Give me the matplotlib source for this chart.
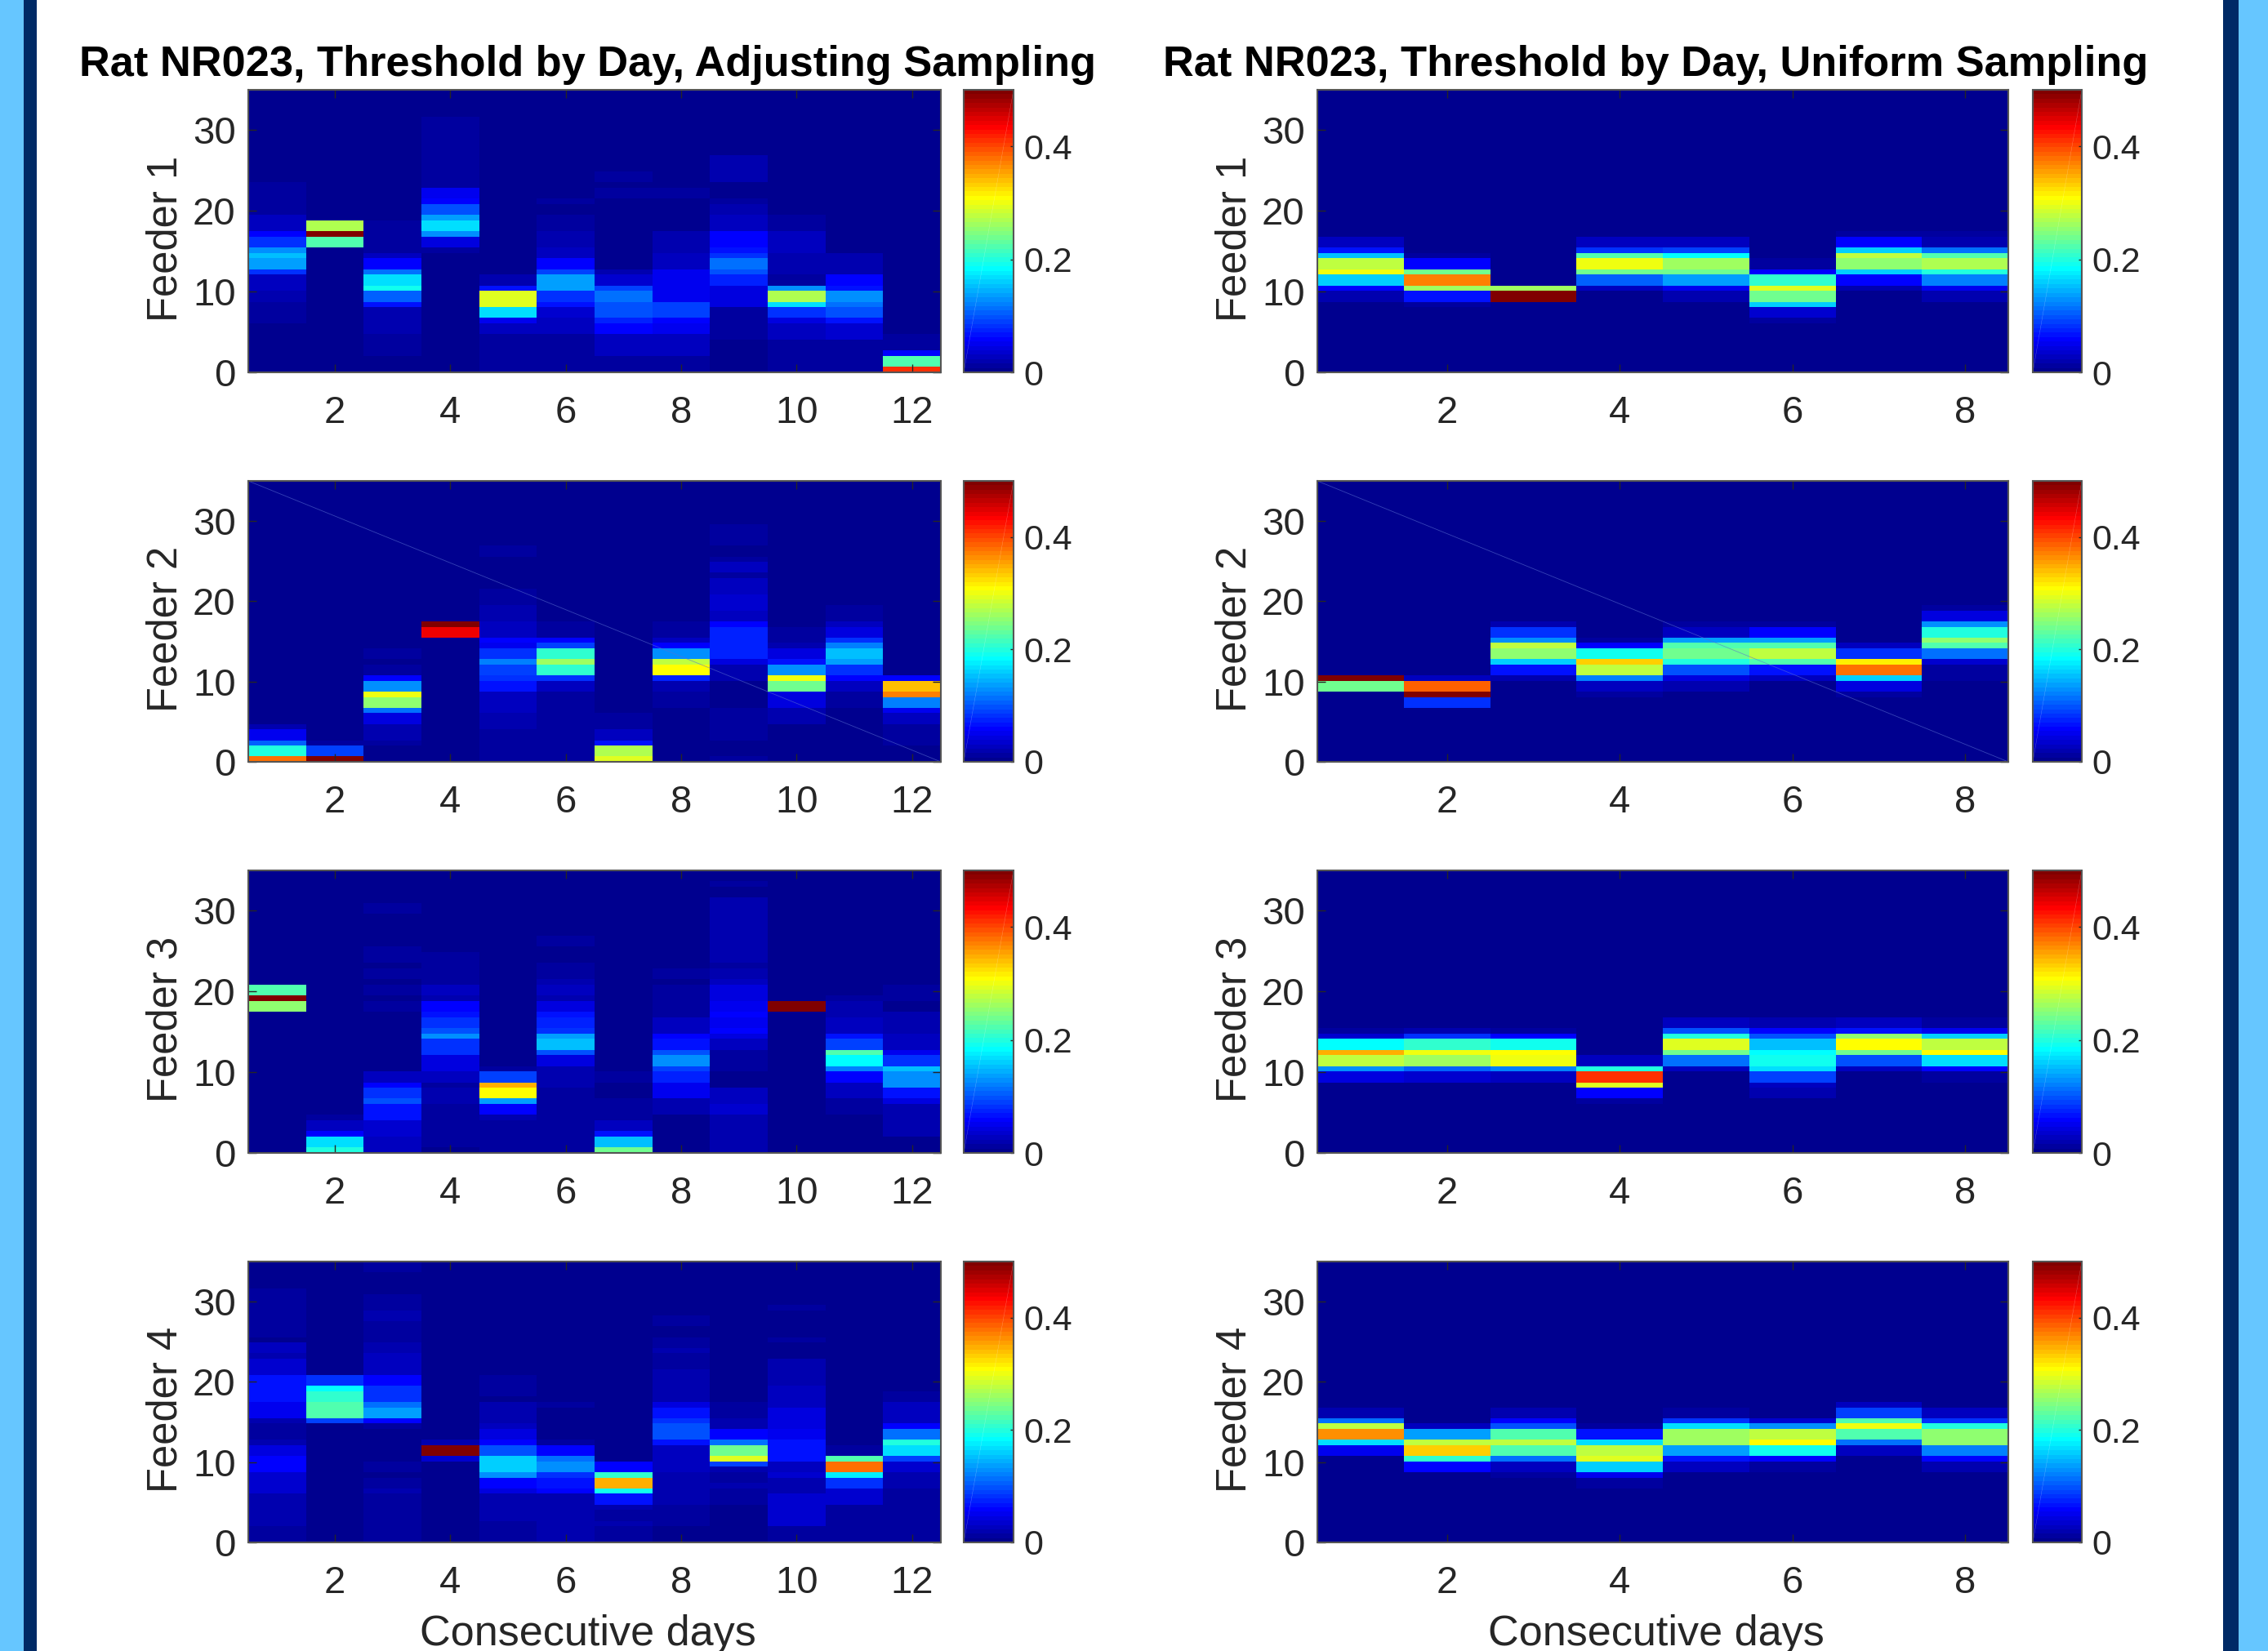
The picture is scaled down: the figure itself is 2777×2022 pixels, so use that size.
# Threshold by day heatmaps, rat NR023
import numpy as np
import matplotlib
matplotlib.use('Agg')
import matplotlib.pyplot as plt
from matplotlib.colors import LinearSegmentedColormap
from matplotlib.patches import Rectangle

plt.rcParams['font.family'] = ['Liberation Sans', 'DejaVu Sans']

#%% Data: for each day, runs of threshold bins (first bin, end bin, value). Bins not listed are 0
n_bins = 52
y_max = 35
days_adj = [1, 2, 3, 4, 5, 6, 7, 8, 9, 10, 11, 12]
days_uni = [1, 2, 3, 4, 5, 6, 7, 8]
feeder_labels = ['Feeder 1', 'Feeder 2', 'Feeder 3', 'Feeder 4']
title_adj = 'Rat NR023, Threshold by Day, Adjusting Sampling'
title_uni = 'Rat NR023, Threshold by Day, Uniform Sampling'

adj_f1 = [
    [(9,13,.012),(13,15,.018),(15,18,.025),(18,19,.08),(19,21,.135),(21,22,.15),(22,23,.13),(23,25,.085),(25,26,.06),(26,29,.025),(29,32,.015),(32,35,.008)],
    [(0,23,.002),(23,25,.22),(25,26,.5),(26,28,.27)],
    [(3,7,.012),(7,12,.02),(12,13,.07),(13,15,.105),(15,16,.19),(16,18,.17),(18,19,.11),(19,21,.06),(21,22,.03),(22,28,.012)],
    [(0,22,.004),(22,23,.015),(23,25,.04),(25,26,.125),(26,28,.17),(28,29,.14),(29,31,.1),(31,32,.06),(32,34,.05),(34,38,.015),(38,47,.01)],
    [(0,7,.012),(7,9,.03),(9,10,.05),(10,12,.165),(12,15,.29),(15,16,.07),(16,18,.02)],
    [(0,7,.01),(7,10,.025),(10,12,.035),(12,13,.07),(13,15,.085),(15,18,.135),(18,19,.09),(19,21,.06),(21,23,.025),(23,26,.02),(26,29,.012),(31,32,.01)],
    [(0,3,.015),(3,7,.025),(7,9,.055),(9,10,.075),(10,12,.095),(12,13,.1),(13,15,.115),(15,16,.09),(16,18,.035),(18,19,.02),(19,28,.003),(32,34,.01),(35,37,.012)],
    [(0,3,.015),(3,7,.025),(7,9,.05),(9,10,.06),(10,13,.09),(13,19,.05),(19,22,.025),(22,26,.02),(32,34,.01)],
    [(0,6,.005),(6,10,.008),(10,12,.015),(12,16,.04),(16,18,.075),(18,19,.1),(19,21,.115),(21,22,.08),(22,23,.07),(23,26,.055),(26,28,.025),(28,29,.03),(29,31,.02),(31,32,.012),(32,35,.006),(35,40,.018)],
    [(0,6,.01),(6,9,.025),(9,10,.04),(10,12,.085),(12,13,.165),(13,15,.27),(15,16,.13),(16,18,.015),(18,22,.02),(22,26,.025),(26,28,.008),(28,29,.012)],
    [(0,6,.012),(6,9,.035),(9,10,.07),(10,12,.1),(12,13,.115),(13,15,.13),(15,16,.07),(16,18,.055),(18,22,.018),(25,26,.005)],
    [(0,1,.41),(1,3,.22),(3,4,.06),(4,7,.015)],
]
adj_f2 = [
    [(0,1,.38),(1,3,.2),(3,4,.105),(4,6,.05),(6,7,.02)],
    [(0,1,.5),(1,3,.09),(3,4,.01)],
    [(3,4,.01),(4,7,.018),(7,9,.045),(9,10,.11),(10,12,.25),(12,13,.3),(13,15,.125),(15,16,.06),(16,18,.012),(19,21,.012)],
    [(0,23,.004),(23,25,.44),(25,26,.5)],
    [(0,6,.012),(6,9,.02),(9,13,.025),(13,15,.07),(15,16,.08),(16,18,.09),(18,19,.12),(19,21,.085),(21,22,.05),(22,23,.055),(23,26,.025),(26,29,.018),(29,32,.012),(34,35,.006),(38,40,.008)],
    [(0,10,.01),(10,13,.012),(13,15,.025),(15,16,.08),(16,18,.21),(18,19,.26),(19,21,.205),(21,22,.09),(22,23,.06),(23,25,.015),(25,26,.008)],
    [(0,1,.29),(1,3,.27),(3,4,.065),(4,6,.03),(6,9,.012)],
    [(4,10,.007),(10,13,.012),(13,15,.02),(15,16,.075),(16,18,.31),(18,19,.28),(19,21,.125),(21,22,.06),(22,23,.025),(23,26,.012)],
    [(0,1,.015),(4,7,.012),(7,10,.012),(10,13,.003),(13,15,.005),(15,18,.02),(18,19,.045),(19,25,.075),(25,26,.06),(26,28,.03),(28,31,.035),(31,34,.025),(34,35,.012),(35,37,.025),(37,38,.012),(38,40,.007),(40,44,.015)],
    [(0,7,.005),(7,10,.02),(10,13,.045),(13,15,.24),(15,16,.3),(16,18,.125),(18,19,.065),(19,21,.04),(21,22,.018),(22,25,.012)],
    [(7,10,.005),(10,13,.012),(13,15,.03),(15,16,.06),(16,18,.085),(18,19,.135),(19,21,.155),(21,22,.12),(22,23,.085),(23,25,.04),(25,26,.025),(26,29,.012),(29,31,.006)],
    [(3,7,.012),(7,9,.025),(9,10,.05),(10,12,.12),(12,13,.37),(13,15,.34),(15,16,.055)],
]
adj_f3 = [
    [(26,28,.25),(28,29,.5),(29,31,.22)],
    [(0,1,.2),(1,3,.165),(3,4,.06),(4,6,.025),(6,7,.012)],
    [(0,3,.025),(3,6,.035),(6,9,.065),(9,10,.095),(10,12,.085),(12,13,.06),(13,15,.03),(26,28,.015),(29,31,.015),(32,34,.012),(35,38,.012),(44,46,.012)],
    [(1,9,.01),(9,12,.02),(12,13,.015),(13,15,.03),(15,18,.04),(18,21,.085),(21,22,.125),(22,23,.095),(23,25,.08),(25,26,.065),(26,28,.055),(28,29,.02),(29,31,.03),(31,37,.015)],
    [(0,6,.012),(6,7,.02),(7,9,.055),(9,10,.14),(10,12,.31),(12,13,.35),(13,15,.09),(15,16,.012)],
    [(0,6,.008),(6,7,.012),(7,12,.01),(12,16,.02),(16,18,.04),(18,19,.1),(19,21,.155),(21,22,.135),(22,23,.08),(23,25,.075),(25,26,.07),(26,28,.04),(28,29,.02),(29,31,.03),(31,32,.02),(32,35,.012),(38,40,.015)],
    [(0,1,.235),(1,3,.155),(3,4,.065),(4,6,.03),(6,10,.012),(10,13,.004),(13,15,.012)],
    [(0,7,.004),(7,10,.022),(10,13,.05),(13,15,.075),(15,16,.09),(16,18,.13),(18,19,.095),(19,21,.07),(21,22,.06),(22,25,.03),(25,28,.015),(28,31,.01),(31,32,.004),(32,34,.008)],
    [(0,7,.02),(7,9,.035),(9,12,.025),(12,15,.005),(15,19,.015),(19,21,.03),(21,22,.04),(22,23,.06),(23,25,.05),(25,26,.055),(26,28,.05),(28,31,.045),(31,32,.03),(32,34,.022),(34,35,.015),(35,37,.022),(37,47,.016),(49,50,.012)],
    [(26,28,.5)],
    [(7,10,.012),(10,13,.03),(13,15,.055),(15,16,.12),(16,18,.18),(18,19,.22),(19,21,.09),(21,22,.065),(22,25,.03),(25,28,.02),(28,29,.01)],
    [(3,9,.02),(9,10,.04),(10,12,.065),(12,15,.125),(15,16,.155),(16,18,.08),(18,19,.05),(19,22,.03),(22,26,.018),(26,28,.004),(28,31,.012)],
]
adj_f4 = [
    [(0,3,.01),(3,9,.018),(9,13,.035),(13,15,.055),(15,16,.06),(16,18,.045),(18,19,.018),(19,22,.008),(22,23,.02),(23,26,.05),(26,31,.065),(31,34,.035),(34,35,.022),(35,37,.03),(37,38,.006),(38,47,.015)],
    [(0,22,.005),(22,23,.09),(23,26,.22),(26,28,.21),(28,29,.185),(29,31,.085)],
    [(0,9,.012),(9,10,.022),(10,12,.012),(13,15,.012),(21,22,.012),(22,23,.06),(23,25,.135),(25,26,.115),(26,29,.085),(29,31,.06),(31,35,.025),(35,37,.018),(37,41,.013),(41,43,.02),(43,46,.012),(50,52,.015)],
    [(0,15,.005),(15,16,.035),(16,18,.5),(18,19,.02)],
    [(0,3,.012),(3,4,.01),(4,9,.02),(9,10,.04),(10,12,.06),(12,13,.13),(13,16,.16),(16,18,.1),(18,19,.06),(19,21,.045),(21,22,.03),(22,26,.018),(27,29,.008),(29,31,.01)],
    [(0,9,.02),(9,10,.055),(10,12,.07),(12,13,.085),(13,15,.13),(15,16,.11),(16,18,.055),(18,19,.015),(25,26,.012)],
    [(0,3,.012),(3,4,.018),(4,6,.012),(6,7,.02),(7,9,.07),(9,10,.195),(10,12,.35),(12,13,.21),(13,15,.06)],
    [(0,3,.006),(3,4,.014),(4,7,.01),(7,13,.018),(13,18,.03),(18,19,.065),(19,22,.1),(22,23,.085),(23,25,.07),(25,26,.045),(26,32,.022),(32,35,.012),(35,36,.02),(36,38,.012),(40,42,.012)],
    [(3,7,.005),(7,10,.014),(10,11,.022),(11,13,.012),(13,14,.02),(14,15,.09),(15,16,.29),(16,18,.24),(18,19,.11),(19,21,.055),(21,23,.018),(23,26,.012)],
    [(0,3,.012),(3,9,.035),(9,12,.022),(12,13,.035),(13,15,.03),(15,19,.065),(19,21,.05),(21,25,.04),(25,26,.03),(26,29,.025),(29,34,.018),(37,38,.012),(43,44,.012)],
    [(0,7,.008),(7,10,.035),(10,12,.085),(12,13,.175),(13,15,.38),(15,16,.22),(16,18,.01)],
    [(0,10,.01),(10,12,.02),(12,13,.022),(13,15,.035),(15,16,.09),(16,18,.17),(18,19,.2),(19,21,.115),(21,22,.055),(22,25,.03),(25,26,.025),(26,28,.01)],
]
uni_f1 = [
    [(13,15,.018),(15,16,.06),(16,18,.16),(18,19,.3),(19,21,.28),(21,22,.15),(22,23,.07),(23,25,.025)],
    [(12,13,.012),(13,15,.065),(15,16,.26),(16,18,.37),(18,19,.24),(19,21,.06),(21,22,.01)],
    [(13,15,.5),(15,16,.26)],
    [(15,16,.03),(16,18,.105),(18,19,.24),(19,21,.3),(21,22,.22),(22,23,.08),(23,25,.025)],
    [(13,15,.02),(15,16,.05),(16,18,.135),(18,19,.24),(19,21,.265),(21,22,.185),(22,23,.09),(23,25,.025)],
    [(9,10,.01),(10,12,.035),(12,13,.16),(13,15,.235),(15,16,.29),(16,18,.205),(18,19,.055),(19,21,.015)],
    [(15,16,.02),(16,18,.06),(18,19,.16),(19,21,.25),(21,22,.28),(22,23,.16),(23,25,.06),(25,26,.012)],
    [(13,15,.02),(15,16,.05),(16,18,.12),(18,19,.2),(19,21,.27),(21,22,.225),(22,23,.115),(23,25,.02),(25,26,.008)],
]
uni_f2 = [
    [(13,15,.24),(15,16,.5)],
    [(10,12,.08),(12,13,.5),(13,15,.39),(15,16,.025)],
    [(15,16,.02),(16,18,.065),(18,19,.16),(19,21,.25),(21,22,.28),(22,23,.13),(23,25,.08),(25,26,.02)],
    [(12,13,.01),(13,15,.025),(15,16,.12),(16,18,.28),(18,19,.33),(19,21,.19),(21,22,.055),(22,23,.012)],
    [(13,15,.02),(15,16,.04),(16,18,.1),(18,19,.2),(19,21,.24),(21,22,.22),(22,23,.14),(23,25,.03),(25,26,.015)],
    [(15,16,.03),(16,18,.07),(18,19,.22),(19,21,.28),(21,22,.22),(22,23,.14),(23,25,.055),(25,26,.012)],
    [(12,13,.012),(13,15,.04),(15,16,.16),(16,18,.375),(18,19,.315),(19,21,.085),(21,22,.025)],
    [(15,18,.015),(18,19,.035),(19,21,.115),(21,22,.22),(22,23,.25),(23,25,.2),(25,26,.13),(26,28,.045),(28,29,.012)],
]
uni_f3 = [
    [(13,15,.045),(15,16,.13),(16,18,.28),(18,19,.35),(19,21,.18),(21,22,.035),(22,23,.012)],
    [(13,15,.035),(15,16,.105),(16,18,.26),(18,19,.3),(19,21,.21),(21,22,.08),(22,23,.018)],
    [(13,15,.025),(15,16,.12),(16,18,.3),(18,19,.31),(19,21,.19),(21,22,.06),(22,23,.008)],
    [(9,10,.012),(10,12,.06),(12,13,.29),(13,15,.41),(15,16,.2),(16,18,.03)],
    [(13,15,.005),(15,16,.03),(16,18,.11),(18,19,.235),(19,21,.29),(21,22,.2),(22,23,.1),(23,25,.025)],
    [(10,12,.018),(12,13,.03),(13,15,.09),(15,16,.165),(16,18,.19),(18,19,.185),(19,21,.15),(21,22,.1),(22,23,.055),(23,25,.018)],
    [(15,16,.03),(16,18,.1),(18,19,.24),(19,21,.31),(21,22,.25),(22,23,.07),(23,25,.025)],
    [(13,15,.012),(15,16,.055),(16,18,.165),(18,19,.31),(19,21,.275),(21,22,.16),(22,23,.05),(23,25,.012)],
]
uni_f4 = [
    [(16,18,.05),(18,19,.17),(19,21,.36),(21,22,.28),(22,23,.11),(23,25,.02)],
    [(13,15,.055),(15,16,.205),(16,18,.33),(18,19,.28),(19,21,.14),(21,22,.025)],
    [(12,13,.012),(13,15,.03),(15,16,.115),(16,18,.22),(18,19,.28),(19,21,.22),(21,22,.1),(22,23,.06),(23,25,.018)],
    [(10,12,.015),(12,13,.05),(13,15,.16),(15,16,.29),(16,18,.28),(18,19,.165),(19,21,.07),(21,22,.015)],
    [(13,15,.025),(15,16,.07),(16,18,.14),(18,21,.265),(21,22,.165),(22,23,.08),(23,25,.015)],
    [(13,15,.012),(15,16,.06),(16,18,.19),(18,19,.31),(19,21,.28),(21,22,.13),(22,23,.035)],
    [(16,18,.03),(18,19,.11),(19,21,.225),(21,22,.3),(22,23,.22),(23,25,.09),(25,26,.025)],
    [(13,15,.02),(15,16,.06),(16,18,.12),(18,21,.25),(21,22,.2),(22,23,.08),(23,25,.025)],
]
adj_panels = [adj_f1, adj_f2, adj_f3, adj_f4]
uni_panels = [uni_f1, uni_f2, uni_f3, uni_f4]

#%% Layout, in pixels of the reference
W, H = 2777, 2022
row_tops = [110, 589, 1066, 1545]
row_bots = [456, 933, 1412, 1889]
heat_x = [(304, 1152), (1613, 2459)]
cbar_x = [(1180, 1241), (2489, 2549)]
dark = '#262626'

# MATLAB style jet, 64 levels
jet = LinearSegmentedColormap.from_list('matlab_jet', [
    (0.0, (0, 0, .5625)), (7 / 63, (0, 0, 1)), (23 / 63, (0, 1, 1)),
    (39 / 63, (1, 1, 0)), (55 / 63, (1, 0, 0)), (1.0, (.5, 0, 0))], N=64)

def to_matrix(day_runs):
    mat = np.zeros((n_bins, len(day_runs)))
    for d, runs in enumerate(day_runs):
        for lo, hi, val in runs:
            mat[lo:hi, d] = val
    return mat

def px_axes(fig, x0, x1, top, bot):
    return fig.add_axes([x0 / W, 1 - bot / H, (x1 - x0) / W, (bot - top) / H])

fig = plt.figure(figsize=(W / 100, H / 100), dpi=100, facecolor='white')

# coloured page edges
for x0, x1, col in [(0, 29, '#66c6ff'), (29, 45, '#002a66'), (2722, 2741, '#002a66'), (2741, W, '#66c6ff')]:
    fig.add_artist(Rectangle((x0 / W, 0), (x1 - x0) / W, 1, transform=fig.transFigure,
                             facecolor=col, edgecolor='none'))

y_edges = np.linspace(0, n_bins, n_bins + 1) * y_max / n_bins

for c, (panels, days, title) in enumerate([(adj_panels, days_adj, title_adj), (uni_panels, days_uni, title_uni)]):
    x_edges = np.arange(len(days) + 1) + 0.5
    for r, day_runs in enumerate(panels):
        ax = px_axes(fig, heat_x[c][0], heat_x[c][1], row_tops[r], row_bots[r])
        mesh = ax.pcolormesh(x_edges, y_edges, to_matrix(day_runs), cmap=jet, vmin=0, vmax=0.5,
                             edgecolors='none', antialiased=False)
        ax.set_xlim(0.5, len(days) + 0.5)
        ax.set_ylim(0, y_max)
        ax.set_xticks(days[1::2])
        ax.set_yticks([0, 10, 20, 30])
        ax.tick_params(axis='both', direction='in', top=True, right=True, length=7, width=1,
                       color=dark, labelcolor=dark, labelsize=34, pad=11)
        ax.tick_params(axis='x', pad=20)
        for s in ax.spines.values():
            s.set_color('#555555')
            s.set_linewidth(1.5)
        ax.set_ylabel(feeder_labels[r], fontsize=36.5, color=dark)
        ax.yaxis.set_label_coords(-0.09 * 848 / (heat_x[c][1] - heat_x[c][0]), 0.474)
        if r == 0:
            ax.set_title(title, fontsize=37.7, fontweight='bold', color='black', pad=12, x=0.49)
        if r == 3:
            ax.set_xlabel('Consecutive days', fontsize=37.5, color=dark)
            ax.xaxis.set_label_coords(0.49, -0.255)
        if r == 1:
            # faint diagonal in the feeder 2 panels
            ax.plot([0, 1], [1, 0], transform=ax.transAxes, color='#5a6fd0', lw=0.6, alpha=0.6)

        cax = px_axes(fig, cbar_x[c][0], cbar_x[c][1], row_tops[r], row_bots[r])
        cb = fig.colorbar(mesh, cax=cax, ticks=[0, 0.2, 0.4])
        cb.ax.set_yticklabels(['0', '0.2', '0.4'])
        cb.ax.tick_params(direction='in', length=3, width=1, color=dark, labelcolor=dark,
                          labelsize=31, pad=9)
        cb.outline.set_edgecolor('#555555')
        cb.outline.set_linewidth(1.5)
        cax.plot([0, 1], [0, 1], transform=cax.transAxes, color='white', lw=0.3, alpha=0.35)

fig.savefig('out.png', dpi=100, facecolor='white')
